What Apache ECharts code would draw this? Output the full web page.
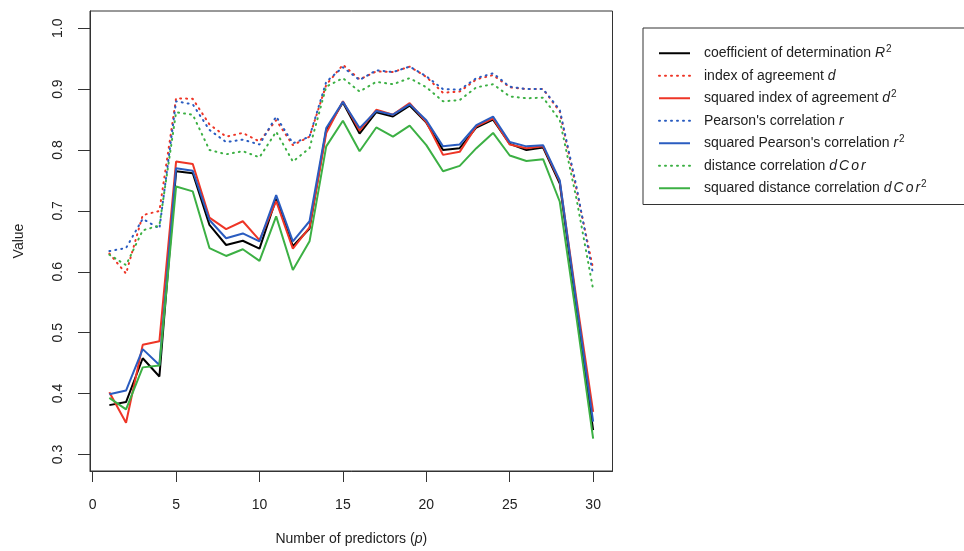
<!DOCTYPE html>
<html>
<head>
<meta charset="utf-8">
<script src="https://cdn.jsdelivr.net/npm/echarts@6/dist/echarts.min.js"></script>
<style>
html,body{margin:0;padding:0;background:#fff;}
#chart{width:964px;height:551px;}
</style>
</head>
<body>
<div id="chart"></div>
<script>
// ---- data ----
const predictors = [1,2,3,4,5,6,7,8,9,10,11,12,13,14,15,16,17,18,19,20,21,22,23,24,25,26,27,28,29,30];
const xTicks = [0,5,10,15,20,25,30];
const yTicks = [0.3,0.4,0.5,0.6,0.7,0.8,0.9,1.0];

const R2 = [0.381,0.386,0.458,0.428,0.765,0.762,0.677,0.644,0.651,0.638,0.720,0.642,0.671,0.833,0.878,0.827,0.862,0.855,0.873,0.845,0.800,0.803,0.837,0.850,0.810,0.800,0.804,0.745,0.540,0.340];
const dIdx = [0.630,0.597,0.693,0.700,0.885,0.884,0.842,0.822,0.828,0.814,0.849,0.808,0.822,0.907,0.940,0.916,0.929,0.928,0.937,0.920,0.894,0.896,0.916,0.923,0.903,0.900,0.900,0.863,0.735,0.605];
const d2 = [0.402,0.352,0.480,0.486,0.781,0.777,0.689,0.670,0.683,0.652,0.716,0.638,0.673,0.828,0.880,0.832,0.866,0.858,0.877,0.846,0.792,0.797,0.839,0.852,0.809,0.803,0.806,0.748,0.555,0.370];
const rP = [0.634,0.639,0.687,0.671,0.880,0.875,0.833,0.813,0.817,0.809,0.855,0.811,0.822,0.912,0.936,0.915,0.931,0.928,0.937,0.921,0.900,0.899,0.918,0.926,0.904,0.900,0.900,0.866,0.740,0.595];
const r2 = [0.399,0.405,0.473,0.447,0.770,0.766,0.685,0.655,0.663,0.650,0.726,0.650,0.683,0.836,0.879,0.836,0.864,0.858,0.875,0.849,0.806,0.809,0.841,0.855,0.813,0.806,0.808,0.750,0.548,0.354];
const dCor = [0.628,0.611,0.668,0.676,0.862,0.858,0.800,0.793,0.798,0.788,0.830,0.781,0.803,0.904,0.918,0.896,0.912,0.908,0.918,0.903,0.880,0.882,0.903,0.908,0.888,0.885,0.886,0.849,0.720,0.571];
const dCor2 = [0.393,0.374,0.443,0.446,0.740,0.732,0.639,0.626,0.637,0.618,0.691,0.603,0.650,0.806,0.848,0.798,0.837,0.822,0.840,0.808,0.765,0.774,0.803,0.828,0.791,0.782,0.785,0.715,0.525,0.326];

const seriesNames = [
  'coefficient of determination R2',
  'index of agreement d',
  'squared index of agreement d2',
  "Pearson's correlation r",
  "squared Pearson's correlation r2",
  'distance correlation dCor',
  'squared distance correlation dCor2'
];
const legendRich = {
  'coefficient of determination R2': 'coefficient of determination {i|R}{sup|2}',
  'index of agreement d': 'index of agreement {i|d}',
  'squared index of agreement d2': 'squared index of agreement {i|d}{sup|2}',
  "Pearson's correlation r": "Pearson's correlation {i|r}",
  "squared Pearson's correlation r2": "squared Pearson's correlation {i|r}{sup|2}",
  'distance correlation dCor': 'distance correlation {i|d}{ip|C}{ip|o}{ip|r}',
  'squared distance correlation dCor2': 'squared distance correlation {i|d}{ip|C}{ip|o}{ip|r}{sup|2}'
};

const BLACK = '#000000', RED = '#ee3526', BLUE = '#2a5cc0', GREEN = '#3cb044';
const FONT = 'Liberation Sans';

function pairs(vals){ return predictors.map((p,i)=>[p, vals[i]]); }
function mk(name, vals, color, dotted){
  return {
    name: name, type: 'line', data: pairs(vals), symbol: 'none', silent: true,
    lineStyle: {color: color, width: 2, type: dotted ? [1,5] : 'solid', cap: dotted ? 'round' : 'butt'},
    itemStyle: {color: color}
  };
}

const chart = echarts.init(document.getElementById('chart'), null, {renderer: 'canvas'});
const txt = {fontFamily: FONT, fontSize: 14, color: '#222'};
chart.setOption({
  animation: false,
  backgroundColor: '#fff',
  grid: {left: 90, right: 351.5, top: 11, bottom: 78.3, show: true, borderColor: '#333', borderWidth: 1, backgroundColor: 'transparent'},
  xAxis: {
    type: 'value', min: -0.16, max: 31.16,
    name: 'Number of predictors ({i|p})', nameLocation: 'middle', nameGap: 61,
    nameTextStyle: Object.assign({}, txt, {rich: {i: Object.assign({}, txt, {fontStyle: 'italic'})}}),
    axisLine: {show: true, onZero: false, lineStyle: {color: '#333', width: 1}},
    axisTick: {show: true, length: 11, customValues: xTicks, lineStyle: {color: '#333'}},
    axisLabel: Object.assign({}, txt, {customValues: xTicks, margin: 27}),
    splitLine: {show: false}
  },
  yAxis: {
    type: 'value', min: 0.2728, max: 1.0283,
    name: 'Value', nameLocation: 'middle', nameGap: 64,
    nameTextStyle: txt,
    axisLine: {show: true, onZero: false, lineStyle: {color: '#333', width: 1}},
    axisTick: {show: true, length: 12, customValues: yTicks, lineStyle: {color: '#333'}},
    axisLabel: Object.assign({}, txt, {customValues: yTicks, margin: 25, rotate: 90, formatter: v => v.toFixed(1)}),
    splitLine: {show: false}
  },
  legend: {
    data: seriesNames, orient: 'vertical', left: 643, top: 28,
    padding: [14, 40, 5, 15], itemGap: 0, itemWidth: 31, itemHeight: 14,
    selectedMode: false,
    itemStyle: {color: 'transparent', borderWidth: 0, opacity: 0},
    backgroundColor: '#fff', borderColor: '#333', borderWidth: 1, borderRadius: 0,
    formatter: n => legendRich[n],
    textStyle: Object.assign({}, txt, {lineHeight: 22.5, padding: [0,0,0,9], rich: {
      i: Object.assign({}, txt, {fontStyle: 'italic', lineHeight: 22.5}),
      ip: Object.assign({}, txt, {fontStyle: 'italic', lineHeight: 22.5, padding: [0,0,0,2]}),
      sup: Object.assign({}, txt, {fontSize: 10, padding: [0,0,9,1]})
    }})
  },
  series: [
    mk(seriesNames[0], R2, BLACK, false),
    mk(seriesNames[1], dIdx, RED, true),
    mk(seriesNames[2], d2, RED, false),
    mk(seriesNames[3], rP, BLUE, true),
    mk(seriesNames[4], r2, BLUE, false),
    mk(seriesNames[5], dCor, GREEN, true),
    mk(seriesNames[6], dCor2, GREEN, false)
  ]
});
</script>
</body>
</html>
